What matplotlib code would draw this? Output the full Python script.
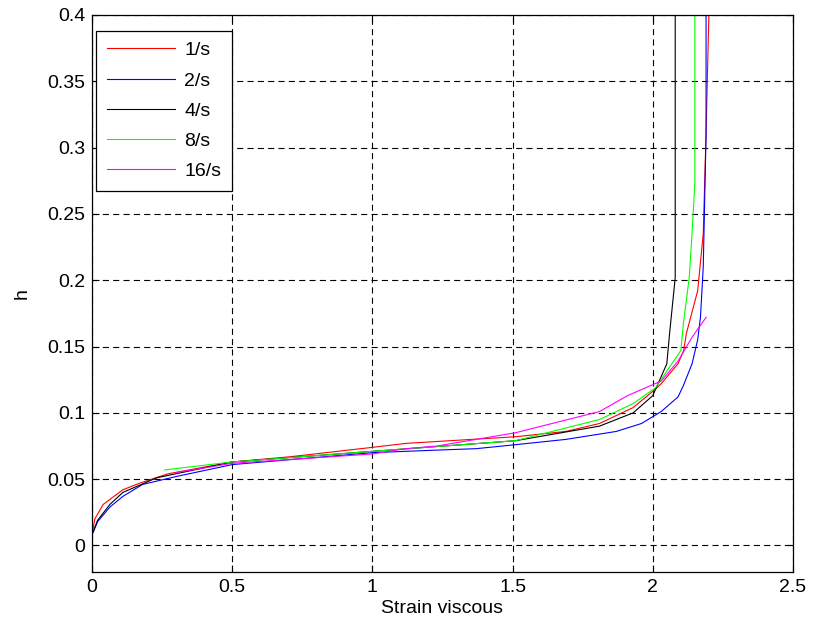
import matplotlib
matplotlib.use("Agg")
import matplotlib.pyplot as plt

plt.rcParams['font.family'] = ['Liberation Sans', 'DejaVu Sans']

# strain rate series
x_1s = [0.0, 0.01, 0.04, 0.11, 0.17, 0.27, 0.5, 0.71, 1.0, 1.12, 1.51, 1.69, 1.81, 1.93,
        2.01, 2.03, 2.09, 2.11, 2.12, 2.16, 2.18, 2.19, 2.2]
h_1s = [0.008, 0.02, 0.031, 0.042, 0.047, 0.054, 0.063, 0.067, 0.074, 0.077, 0.082, 0.086, 0.092, 0.104,
        0.118, 0.122, 0.137, 0.147, 0.16, 0.192, 0.235, 0.311, 0.4]

x_2s = [0.0, 0.02, 0.064, 0.11, 0.18, 0.30, 0.5, 1.0, 1.24, 1.37, 1.51, 1.69, 1.87, 1.96, 2.03,
        2.09, 2.11, 2.14, 2.16, 2.17, 2.18, 2.19, 2.19]
h_2s = [0.008, 0.018, 0.029, 0.037, 0.046, 0.052, 0.061, 0.070, 0.072, 0.073, 0.076, 0.080, 0.086, 0.092, 0.101,
        0.112, 0.121, 0.137, 0.155, 0.172, 0.21, 0.31, 0.4]

x_4s = [0.0, 0.02, 0.064, 0.11, 0.23, 0.5, 1.0, 1.51, 1.81, 1.93, 2.0, 2.05, 2.06, 2.08, 2.08]
h_4s = [0.008, 0.019, 0.031, 0.040, 0.051, 0.063, 0.071, 0.079, 0.090, 0.100, 0.113, 0.137, 0.16, 0.202, 0.4]

x_8s = [0.26, 0.5, 1.0, 1.51, 1.81, 1.93, 2.01, 2.10, 2.11, 2.13, 2.14, 2.15, 2.15]
h_8s = [0.057, 0.063, 0.071, 0.079, 0.095, 0.107, 0.119, 0.147, 0.169, 0.202, 0.235, 0.273, 0.4]

x_16s = [0.3, 0.5, 1.0, 1.12, 1.23, 1.51, 1.81, 1.91, 2.03, 2.09, 2.14, 2.19]
h_16s = [0.055, 0.062, 0.069, 0.073, 0.075, 0.085, 0.101, 0.113, 0.124, 0.139, 0.157, 0.172]

labels = ['1/s', '2/s', '4/s', '8/s', '16/s']
colors = ['#ff0000', '#0000ff', '#000000', '#00ff00', '#ff00ff']

fig = plt.figure(figsize=(8.17, 6.32), dpi=100)
ax = fig.add_axes([0.1126, 0.0949, 0.8580, 0.8814])

series = [(x_1s, h_1s), (x_2s, h_2s), (x_4s, h_4s), (x_8s, h_8s), (x_16s, h_16s)]
for (xs, hs), lab, col in zip(series, labels, colors):
    ax.plot(xs, hs, color=col, lw=0.8, label=lab)

ax.set_xlim(0, 2.5)
ax.set_ylim(-0.02, 0.4)
ax.set_xticks([0, 0.5, 1, 1.5, 2, 2.5])
ax.set_xticklabels(['0', '0.5', '1', '1.5', '2', '2.5'])
ax.set_yticks([0, 0.05, 0.1, 0.15, 0.2, 0.25, 0.3, 0.35, 0.4])
ax.set_yticklabels(['0', '0.05', '0.1', '0.15', '0.2', '0.25', '0.3', '0.35', '0.4'])
ax.tick_params(direction='in', top=True, right=True, labelsize=14, length=5, pad=5)
ax.grid(True, color='black', linestyle=(0, (5.5, 3.8)), lw=0.8)
for s in ax.spines.values():
    s.set_linewidth(0.9)

ax.set_xlabel('Strain viscous', fontsize=14, labelpad=3)
ax.set_ylabel('h', fontsize=14, labelpad=12)

leg = ax.legend(loc='upper left', bbox_to_anchor=(0.0057, 0.9713), fontsize=14,
                frameon=True, fancybox=False, framealpha=1, edgecolor='black',
                handlelength=3.5, handletextpad=0.5, borderaxespad=0,
                borderpad=0.55, labelspacing=0.65)
leg.get_frame().set_linewidth(0.9)

fig.savefig('out.png', dpi=100)
